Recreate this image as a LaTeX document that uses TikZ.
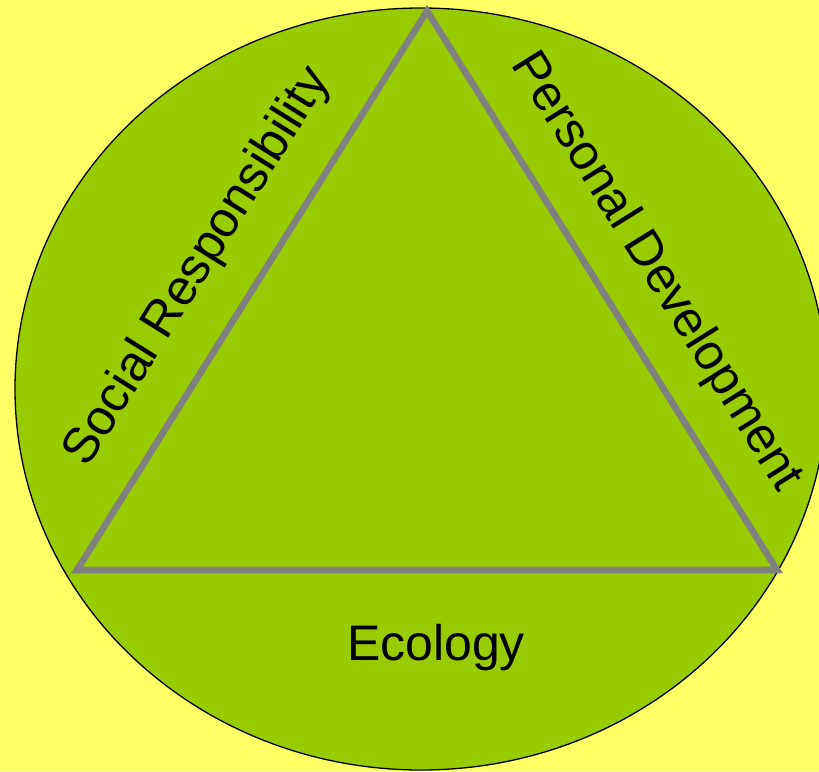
\documentclass[tikz,border=0pt]{standalone}
\usepackage{fontspec}
\setmainfont{Liberation Sans}
\definecolor{bgyellow}{HTML}{FFFF66}
\definecolor{leafgreen}{HTML}{99CC00}
\definecolor{edgegray}{HTML}{808080}
\begin{document}
\begin{tikzpicture}[x=1pt,y=-1pt,
  lbl/.style={font=\fontsize{50}{60}\selectfont, inner sep=0pt, anchor=base, text=black},
  edge/.style={draw=edgegray, line width=6.6pt, line join=miter}]
\fill[bgyellow] (0,0) rectangle (819,771);
\useasboundingbox (0,0) rectangle (819,771);
\begin{scope}
\clip (0,0) rectangle (819,771);
\draw[fill=leafgreen, line width=1.3pt] (421,389) ellipse [x radius=406, y radius=381];
\end{scope}
\coordinate (apex) at (427,11);
\coordinate (br) at (777,570);
\coordinate (bl) at (77,570);
\draw[edge] (apex) -- (br) -- (bl) -- cycle;
\node[lbl, rotate=58] (social) at (209,274) {Social Responsibility};
\node[lbl, rotate=-58] (personal) at (645,279) {Personal Development};
\node[lbl] (ecology) at (436,660) {Ecology};
\end{tikzpicture}
\end{document}
